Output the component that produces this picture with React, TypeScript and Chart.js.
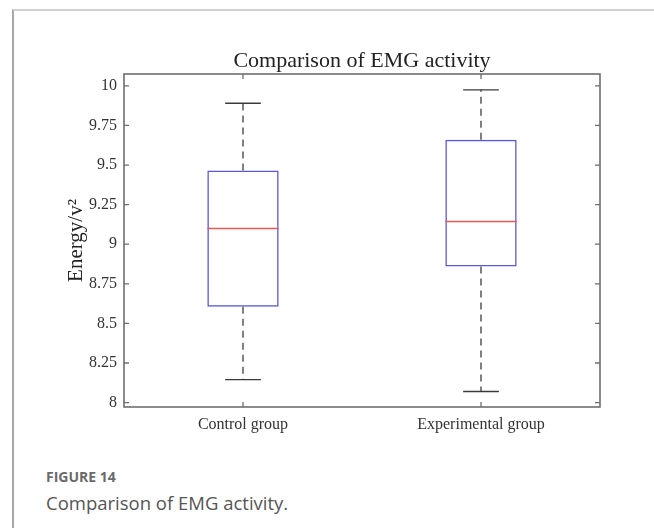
import React, { useEffect, useRef } from 'react';
import { Chart, registerables } from 'chart.js';

Chart.register(...registerables);

const CATEGORIES = ['Control group', 'Experimental group'];
const WHISKER_LOW = [8.145, 8.07];
const Q1 = [8.605, 8.86];
const MEDIAN = [9.1, 9.143];
const Q3 = [9.465, 9.66];
const WHISKER_HIGH = [9.89, 9.975];
const Y_TICKS = [8, 8.25, 8.5, 8.75, 9, 9.25, 9.5, 9.75, 10];
const Y_MIN = 7.972;
const Y_MAX = 10.075;
const TITLE = 'Comparison of EMG activity';

const SERIF = '"Liberation Serif", "Times New Roman", serif';

const boxPlugin = {
  id: 'boxExtras',
  afterDatasetsDraw(chart: any) {
    const { ctx, chartArea, scales } = chart;
    const xs = scales.x;
    const ys = scales.y;
    const meta = chart.getDatasetMeta(0);
    ctx.save();
    CATEGORIES.forEach((_, i) => {
      const bar: any = meta.data[i];
      const cx = xs.getPixelForValue(i);
      const w = bar.width;
      const yLow = ys.getPixelForValue(WHISKER_LOW[i]);
      const yQ1 = ys.getPixelForValue(Q1[i]);
      const yMed = ys.getPixelForValue(MEDIAN[i]);
      const yQ3 = ys.getPixelForValue(Q3[i]);
      const yHigh = ys.getPixelForValue(WHISKER_HIGH[i]);
      // dashed whiskers
      ctx.strokeStyle = '#4a4a4a';
      ctx.lineWidth = 1.4;
      ctx.setLineDash([7, 5]);
      ctx.beginPath();
      ctx.moveTo(cx, yQ3);
      ctx.lineTo(cx, yHigh);
      ctx.moveTo(cx, yQ1);
      ctx.lineTo(cx, yLow);
      ctx.stroke();
      // caps
      ctx.setLineDash([]);
      ctx.strokeStyle = '#3a3a3a';
      ctx.beginPath();
      ctx.moveTo(cx - w / 4, yHigh);
      ctx.lineTo(cx + w / 4, yHigh);
      ctx.moveTo(cx - w / 4, yLow);
      ctx.lineTo(cx + w / 4, yLow);
      ctx.stroke();
      // median
      ctx.strokeStyle = '#e05a5a';
      ctx.lineWidth = 1.5;
      ctx.beginPath();
      ctx.moveTo(cx - w / 2, yMed);
      ctx.lineTo(cx + w / 2, yMed);
      ctx.stroke();
    });
    // frame
    const { left, right, top, bottom } = chartArea;
    ctx.strokeStyle = '#6e6e6e';
    ctx.lineWidth = 1.6;
    ctx.strokeRect(left, top, right - left, bottom - top);
    // inward ticks
    ctx.lineWidth = 1.3;
    ctx.beginPath();
    Y_TICKS.forEach((v) => {
      const py = ys.getPixelForValue(v);
      ctx.moveTo(left, py);
      ctx.lineTo(left + 5, py);
      ctx.moveTo(right, py);
      ctx.lineTo(right - 5, py);
    });
    CATEGORIES.forEach((_, i) => {
      const px = xs.getPixelForValue(i);
      ctx.moveTo(px, bottom);
      ctx.lineTo(px, bottom - 5);
      ctx.moveTo(px, top);
      ctx.lineTo(px, top + 5);
    });
    ctx.stroke();
    // title centred over the axes
    ctx.fillStyle = '#222';
    ctx.font = `22px ${SERIF}`;
    ctx.textAlign = 'center';
    ctx.textBaseline = 'middle';
    ctx.fillText(TITLE, (left + right) / 2, top - 13);
    ctx.restore();
  },
};

function BoxChart() {
  const ref = useRef<HTMLCanvasElement>(null);
  useEffect(() => {
    if (!ref.current) return;
    const chart = new Chart(ref.current, {
      type: 'bar',
      data: {
        labels: CATEGORIES,
        datasets: [
          {
            data: CATEGORIES.map((_, i) => [Q1[i], Q3[i]]) as any,
            backgroundColor: 'rgba(0,0,0,0)',
            borderColor: '#5a5ad0',
            borderWidth: 1.5,
            borderSkipped: false,
            barPercentage: 0.3,
            categoryPercentage: 1.0,
          },
        ],
      },
      options: {
        animation: false,
        responsive: false,
        maintainAspectRatio: false,
        layout: { padding: { left: 0, right: 54, top: 74, bottom: 0 } },
        plugins: {
          legend: { display: false },
          tooltip: { enabled: false },
          title: { display: false },
        },
        scales: {
          x: {
            offset: true,
            grid: { display: false, drawTicks: false },
            border: { display: false },
            ticks: {
              color: '#333',
              font: { family: SERIF, size: 16 },
              padding: 8,
              maxRotation: 0,
            },
            afterFit: (s: any) => {
              s.height = 43;
            },
          },
          y: {
            min: Y_MIN,
            max: Y_MAX,
            grid: { display: false, drawTicks: false },
            border: { display: false },
            afterBuildTicks: (s: any) => {
              s.ticks = Y_TICKS.map((v) => ({ value: v }));
            },
            ticks: {
              color: '#333',
              font: { family: SERIF, size: 16 },
              padding: 7,
              callback: (v: any) => String(v),
            },
            title: {
              display: true,
              text: 'Energy/v²',
              color: '#222',
              font: { family: SERIF, size: 21 },
              padding: { top: 64, bottom: 0 },
            },
            afterFit: (s: any) => {
              s.width = 124;
            },
          },
        },
      },
      plugins: [boxPlugin],
    });
    return () => chart.destroy();
  }, []);
  return (
    <canvas
      ref={ref}
      width={654}
      height={450}
      style={{ position: 'absolute', left: 0, top: 0, width: 654, height: 450 }}
    />
  );
}

export default function App() {
  return (
    <div
      style={{
        position: 'absolute',
        left: 0,
        top: 0,
        width: 654,
        height: 528,
        background: '#fff',
        overflow: 'hidden',
      }}
    >
      <div
        style={{
          position: 'absolute',
          left: 12,
          top: 9,
          width: 642,
          height: 519,
          borderTop: '2px solid #d2d2d2',
          borderLeft: '2px solid #a8a8a8',
          boxSizing: 'border-box',
        }}
      />
      <BoxChart />
      <div
        style={{
          position: 'absolute',
          left: 46,
          top: 468,
          fontFamily: '"Open Sans", sans-serif',
          fontWeight: 700,
          fontSize: 14,
          lineHeight: '18px',
          color: '#6a6a6a',
        }}
      >
        FIGURE 14
      </div>
      <div
        style={{
          position: 'absolute',
          left: 46,
          top: 491,
          fontFamily: '"Open Sans", sans-serif',
          fontWeight: 400,
          fontSize: 18.5,
          lineHeight: '24px',
          color: '#555',
        }}
      >
        Comparison of EMG activity.
      </div>
    </div>
  );
}
